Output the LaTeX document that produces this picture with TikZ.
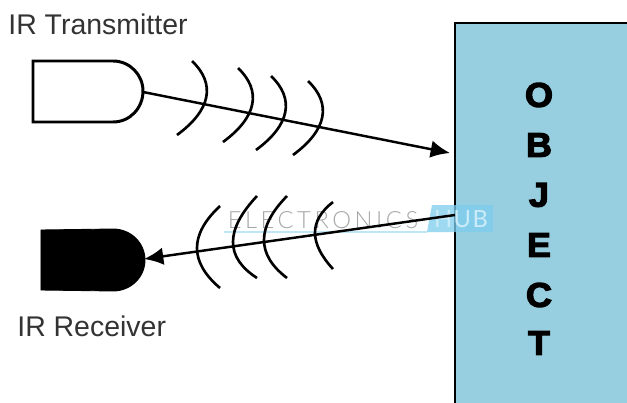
\documentclass[tikz,border=0pt]{standalone}
\usepackage{fontspec}
\setmainfont{Liberation Sans}
\newfontfamily\heavyfont[BoldFont={Liberation Sans Bold}, BoldFeatures={FakeBold=3.6, FakeStretch=1.05}]{Liberation Sans}
\newfontfamily\markfont[LetterSpace=15]{Lato Light}
\newfontfamily\hubfont[LetterSpace=6]{Lato}
\usetikzlibrary{arrows.meta}
\definecolor{objblue}{HTML}{98CFE0}
\definecolor{hubblue}{HTML}{7CCDEE}
\definecolor{labelgray}{HTML}{333333}
\tikzset{
  wave/.style={line width=1.5pt},
  ray/.style={line width=1.4pt, ->},
  diode/.style={line width=1.7pt, line join=miter},
  caption/.style={font=\fontsize{16.2}{18}\selectfont, text=labelgray, inner sep=0pt},
  objletter/.style={font=\heavyfont\bfseries\fontsize{19.5}{22}\selectfont, inner sep=0pt}
}
\begin{document}
\begin{tikzpicture}[x=0.02cm, y=-0.02cm, >={Latex[length=11pt,width=10pt]}]
  \useasboundingbox (0,0) rectangle (627,403);
  % objeto
  \fill[objblue] (455,23) rectangle (627,403);
  \draw[diode] (627,23) -- (455,23) -- (455,403);
  \foreach \l/\y/\n in {O/95/lo, B/145/lb, J/195/lj, E/245/le, C/295/lc, T/343/lt}
    \node[objletter] (\n) at (539,\y) {\l};
  % marca de agua
  \node[font=\markfont\fontsize{13.5}{15}\selectfont, text=black!35, inner sep=0pt] (wmark) at (323,220) {ELECTRONICS};
  \fill[hubblue, opacity=0.75] (427,232) -- (432,205) -- (493,205) -- (493,232) -- cycle;
  \node[font=\hubfont\fontsize{13.5}{15}\selectfont, text=white!60!hubblue, inner sep=0pt] (hub) at (461,219) {HUB};
  \draw[hubblue!50, line width=0.6pt] (224,232) -- (427,232);
  % emisor
  \draw[diode] (113,61) -- (33,61) -- (33,122) -- (113,122)
    .. controls (130,122) and (143,108) .. (143,91)
    .. controls (143,75) and (130,61) .. (113,61);
  \coordinate (txtip) at (143,92);
  \coordinate (txhit) at (450,153);
  \draw[ray] (txtip) -- (txhit);
  \foreach \x/\y in {0/0, 46/7, 79/15, 116/20}
    \draw[wave] (192+\x,61+\y) .. controls (216+\x,84+\y) and (211+\x,110+\y) .. (177+\x,135+\y);
  \node[caption, anchor=west] (txlabel) at (8,24) {IR Transmitter};
  % receptor
  \fill[draw=black, line width=0.5pt] (113,229) -- (41,230) -- (41,290) -- (113,291)
    .. controls (131,291) and (145,277) .. (145,260)
    .. controls (145,243) and (131,229) .. (113,229);
  \coordinate (rxtip) at (144,259);
  \coordinate (rxout) at (455,215);
  \draw[ray] (rxout) -- (rxtip);
  \foreach \x/\c/\t/\m/\b in {220/174/206/249/288, 257/209/196/247/278, 287/241/196/243/278, 333/297/202/230/269}
    \draw[wave] (\x,\t) .. controls ({\x+0.667*(\c-\x)},{\t+0.667*(\m-\t)}) and ({\x+0.667*(\c-\x)},{\b+0.667*(\m-\b)}) .. (\x,\b);
  \node[caption, anchor=west] (rxlabel) at (17,326) {IR Receiver};
\end{tikzpicture}
\end{document}
